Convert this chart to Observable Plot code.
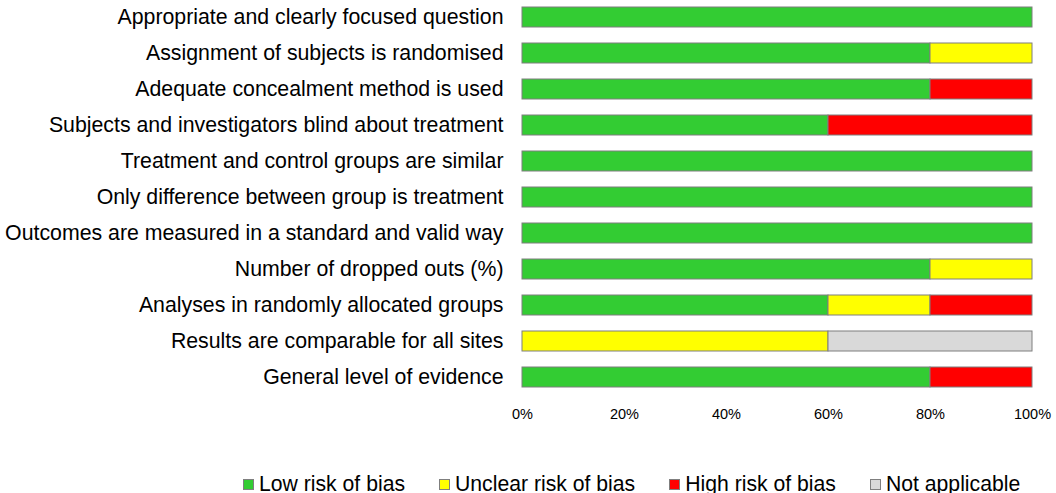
<!DOCTYPE html>
<html>
<head>
<meta charset="utf-8">
<script src="https://cdn.jsdelivr.net/npm/d3@7"></script>
<script src="https://cdn.jsdelivr.net/npm/@observablehq/plot@0.6"></script>
<style>
  html, body { margin: 0; padding: 0; background: #fff; }
  body { width: 1056px; height: 493px; position: relative; overflow: hidden; font-family: "Liberation Sans", Arial, sans-serif; }
  #chart { position: absolute; left: 0; top: 0; }
  #legend { position: absolute; left: 243px; top: 472px; display: flex; align-items: center; font-size: 21.2px; color: #000; white-space: nowrap; }
  .item { display: flex; align-items: center; margin-right: 34px; }
  .sw { width: 11px; height: 11px; border: 1px solid #7f7f7f; margin-right: 5px; box-sizing: border-box; }
</style>
</head>
<body>
<div id="chart"></div>
<div id="legend"></div>
<script>
const questions = [
  "Appropriate and clearly focused question",
  "Assignment of subjects is randomised",
  "Adequate concealment method is used",
  "Subjects and investigators blind about treatment",
  "Treatment and control groups are similar",
  "Only difference between group is treatment",
  "Outcomes are measured in a standard and valid way",
  "Number of dropped outs (%)",
  "Analyses in randomly allocated groups",
  "Results are comparable for all sites",
  "General level of evidence"
];
const categories = ["Low risk of bias", "Unclear risk of bias", "High risk of bias", "Not applicable"];
const colors = ["#33cc33", "#ffff00", "#ff0000", "#d9d9d9"];
const lowRisk     = [100, 80, 80, 60, 100, 100, 100, 80, 60, 0, 80];
const unclearRisk = [0, 20, 0, 0, 0, 0, 0, 20, 20, 60, 0];
const highRisk    = [0, 0, 20, 40, 0, 0, 0, 0, 20, 0, 20];
const notApplic   = [0, 0, 0, 0, 0, 0, 0, 0, 0, 40, 0];
const xTicks = [0, 20, 40, 60, 80, 100];

const series = [lowRisk, unclearRisk, highRisk, notApplic];
const rows = [];
questions.forEach((q, i) => {
  series.forEach((s, k) => {
    if (s[i] > 0) rows.push({question: q, category: categories[k], value: s[i]});
  });
});

const plot = Plot.plot({
  width: 1056,
  height: 430,
  marginLeft: 522,
  marginRight: 24,
  marginTop: 0,
  marginBottom: 34,
  style: {fontFamily: '"Liberation Sans", Arial, sans-serif', background: "#fff", color: "#000"},
  x: {domain: [0, 100]},
  y: {domain: questions, range: [-2.5, 396], padding: 0},
  color: {domain: categories, range: colors},
  marks: [
    Plot.barX(rows, Plot.stackX({
      x: "value", y: "question", fill: "category",
      order: categories,
      stroke: "#7f7f7f", strokeWidth: 1,
      insetTop: 8, insetBottom: 8, insetLeft: 0, insetRight: 0
    })),
    Plot.axisX({ticks: xTicks, tickFormat: d => d + "%", tickSize: 0, tickPadding: 12, fontSize: 14.5, label: null}),
    Plot.axisY({tickSize: 0, tickPadding: 19, fontSize: 21.3, label: null})
  ]
});
document.getElementById("chart").appendChild(plot);

const legend = document.getElementById("legend");
categories.forEach((c, k) => {
  const it = document.createElement("div");
  it.className = "item";
  const sw = document.createElement("div");
  sw.className = "sw";
  sw.style.background = colors[k];
  const t = document.createElement("span");
  t.textContent = c;
  it.appendChild(sw);
  it.appendChild(t);
  legend.appendChild(it);
});
</script>
</body>
</html>
